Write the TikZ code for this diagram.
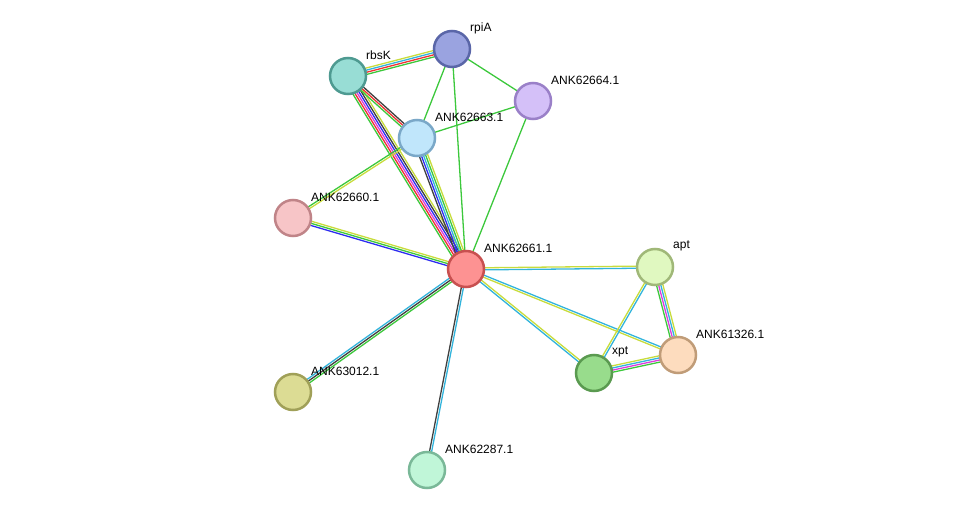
\documentclass[tikz,border=0pt]{standalone}
\usepackage{fontspec}
\setmainfont{Liberation Sans}
\usetikzlibrary{calc}
\definecolor{eGreen}{HTML}{3CC83C}
\definecolor{eRed}{HTML}{F03232}
\definecolor{eBlue}{HTML}{2D2DF0}
\definecolor{eCyan}{HTML}{32B4DC}
\definecolor{eYellow}{HTML}{C8DC3C}
\definecolor{eMagenta}{HTML}{DC3CDC}
\definecolor{eBlack}{HTML}{404040}
\tikzset{protein/.style={circle, minimum size=36pt, inner sep=0pt, line width=2.5pt},
  plabel/.style={anchor=west, font=\fontsize{12}{14}\selectfont, inner sep=0pt}}
% edge made of parallel coloured lines: from, to, number of lines, colours
\newcommand{\multiedge}[4]{%
  \foreach \c [count=\i] in {#4} {
    \pgfmathsetmacro{\off}{(\i-(#3+1)/2)*2.1}
    \draw[\c, line width=1.3pt] ($(#1)!\off pt!90:(#2)$) -- ($(#2)!\off pt!-90:(#1)$);
  }}
\begin{document}
\begin{tikzpicture}[x=1pt, y=-1pt]
    \useasboundingbox (0,0) rectangle (975,516);

    % Coordinates of proteins
    \coordinate (RPIA) at (452,49);
    \coordinate (RBSK) at (348,76);
    \coordinate (P64) at (533,101);
    \coordinate (P63) at (417,138);
    \coordinate (P60) at (293,218);
    \coordinate (P61) at (466,269);
    \coordinate (APT) at (655,267);
    \coordinate (P26) at (678,355);
    \coordinate (XPT) at (594,373);
    \coordinate (P12) at (293,392);
    \coordinate (P87) at (427,470);

    % Edges
    \multiedge{RBSK}{RPIA}{4}{eGreen,eRed,eCyan,eYellow}
    \multiedge{RBSK}{P61}{6}{eGreen,eRed,eMagenta,eBlue,eBlack,eYellow}
    \multiedge{RBSK}{P63}{3}{eGreen,eRed,eBlack}
    \multiedge{RPIA}{P63}{1}{eGreen}
    \multiedge{RPIA}{P64}{1}{eGreen}
    \multiedge{RPIA}{P61}{1}{eGreen}
    \multiedge{P64}{P61}{1}{eGreen}
    \multiedge{P63}{P64}{1}{eGreen}
    \multiedge{P63}{P61}{5}{eBlack,eBlue,eCyan,eGreen,eYellow}
    \multiedge{P63}{P60}{2}{eGreen,eYellow}
    \multiedge{P60}{P61}{3}{eBlue,eGreen,eYellow}
    \multiedge{P61}{APT}{2}{eCyan,eYellow}
    \multiedge{P61}{P26}{2}{eYellow,eCyan}
    \multiedge{P61}{XPT}{2}{eCyan,eYellow}
    \multiedge{P61}{P12}{3}{eCyan,eBlack,eGreen}
    \multiedge{P61}{P87}{2}{eBlack,eCyan}
    \multiedge{APT}{P26}{4}{eGreen,eMagenta,eCyan,eYellow}
    \multiedge{APT}{XPT}{2}{eYellow,eCyan}
    \multiedge{XPT}{P26}{4}{eGreen,eMagenta,eCyan,eYellow}

    % Proteins
    \node[protein, fill={rgb,255:red,154;green,163;blue,224}, draw={rgb,255:red,90;green,102;blue,168}] (rpiA) at (RPIA) {};
    \node[protein, fill={rgb,255:red,152;green,221;blue,213}, draw={rgb,255:red,78;green,154;blue,145}] (rbsK) at (RBSK) {};
    \node[protein, fill={rgb,255:red,212;green,192;blue,248}, draw={rgb,255:red,154;green,128;blue,200}] (ank64) at (P64) {};
    \node[protein, fill={rgb,255:red,192;green,230;blue,251}, draw={rgb,255:red,122;green,168;blue,200}] (ank63) at (P63) {};
    \node[protein, fill={rgb,255:red,247;green,197;blue,199}, draw={rgb,255:red,192;green,132;blue,136}] (ank60) at (P60) {};
    \node[protein, fill={rgb,255:red,253;green,146;blue,146}, draw={rgb,255:red,200;green,80;blue,80}] (ank61) at (P61) {};
    \node[protein, fill={rgb,255:red,224;green,248;blue,192}, draw={rgb,255:red,160;green,184;blue,120}] (apt) at (APT) {};
    \node[protein, fill={rgb,255:red,253;green,220;blue,190}, draw={rgb,255:red,192;green,156;blue,120}] (ank26) at (P26) {};
    \node[protein, fill={rgb,255:red,152;green,220;blue,140}, draw={rgb,255:red,90;green,154;blue,80}] (xpt) at (XPT) {};
    \node[protein, fill={rgb,255:red,220;green,220;blue,148}, draw={rgb,255:red,160;green,160;blue,88}] (ank12) at (P12) {};
    \node[protein, fill={rgb,255:red,192;green,246;blue,216}, draw={rgb,255:red,122;green,184;blue,152}] (ank87) at (P87) {};

    % Labels
    \node[plabel] at ($(rpiA)+(18,-21)$) {rpiA};
    \node[plabel] at ($(rbsK)+(18,-21)$) {rbsK};
    \node[plabel] at ($(ank64)+(18,-21)$) {ANK62664.1};
    \node[plabel] at ($(ank63)+(18,-21)$) {ANK62663.1};
    \node[plabel] at ($(ank60)+(18,-21)$) {ANK62660.1};
    \node[plabel] at ($(ank61)+(18,-21)$) {ANK62661.1};
    \node[plabel] at ($(apt)+(18,-21)$) {apt};
    \node[plabel] at ($(ank26)+(18,-21)$) {ANK61326.1};
    \node[plabel] at ($(xpt)+(18,-21)$) {xpt};
    \node[plabel] at ($(ank12)+(18,-21)$) {ANK63012.1};
    \node[plabel] at ($(ank87)+(18,-21)$) {ANK62287.1};
\end{tikzpicture}
\end{document}
